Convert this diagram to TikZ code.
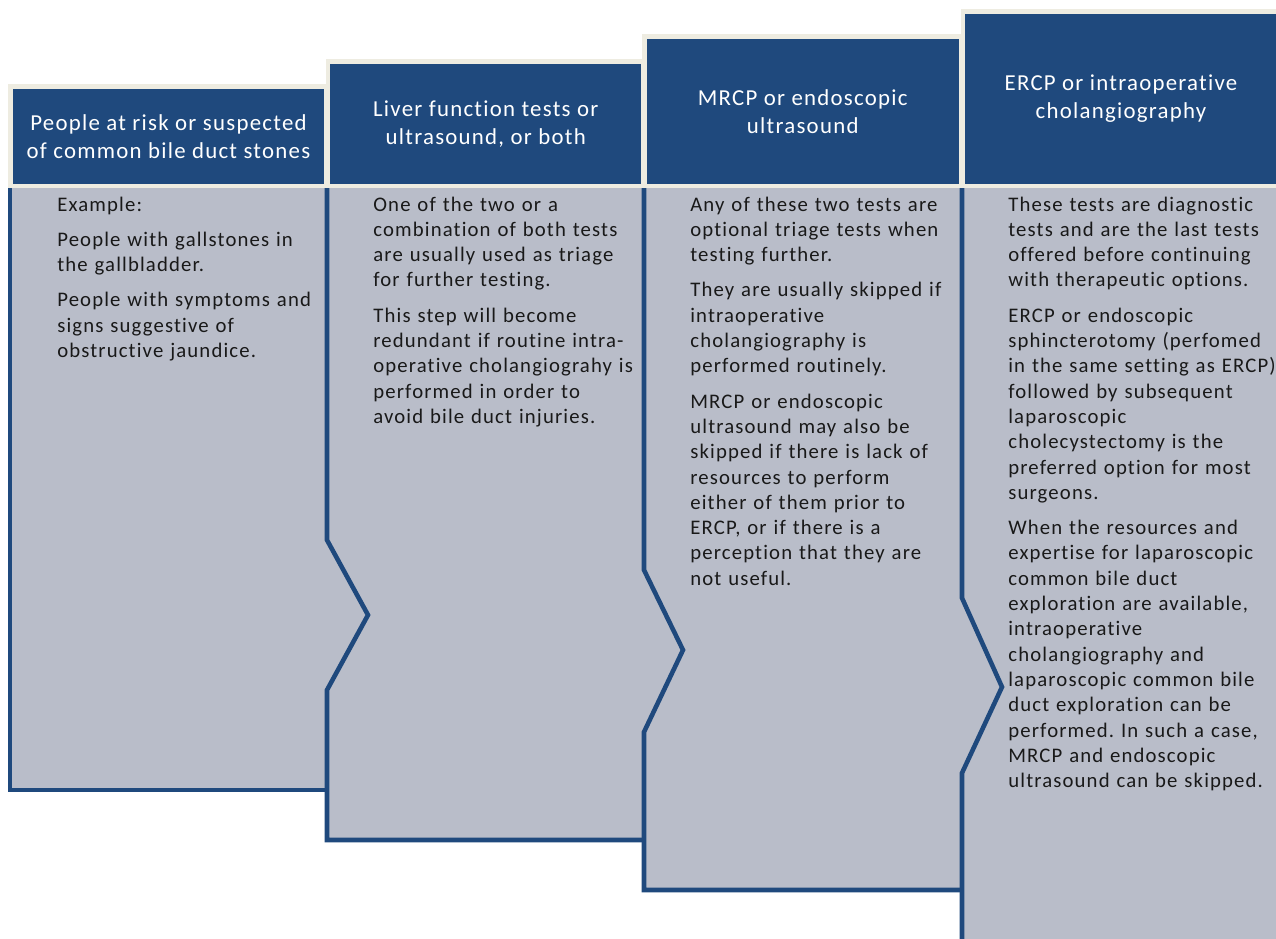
\documentclass[tikz,border=0pt]{standalone}
\usepackage{fontspec}
\setmainfont{Carlito}[LetterSpace=5.5, Ligatures={NoCommon}]
\frenchspacing

\definecolor{stepblue}{HTML}{1F497D}
\definecolor{stepgrey}{HTML}{B9BDC9}
\definecolor{stepcream}{HTML}{EEECE1}

\begin{document}
\begin{tikzpicture}[
    stepbody/.style = {fill = stepgrey},
    stepedge/.style = {draw = stepblue, line width = 2.6pt},
    stephead/.style = {fill = stepblue, draw = stepcream, line width = 2.8pt,
        text = white, align = center, inner sep = 0pt,
        font = \fontsize{13}{15.9}\selectfont},
    steptext/.style = {anchor = base west, text width = 6.200cm, align = left,
        inner sep = 0pt, text = black!90, font = \fontsize{11.8}{14.4}\selectfont}
]
    % Frame of the picture
    \useasboundingbox (+0.000, +0.000) rectangle (+25.520, -18.760);
    \clip (+0.000, +0.000) rectangle (+25.520, -18.760);

    % === Grey bodies from left to right ===
    % Panel 1
    \fill[stepbody] (+0.200, -3.740) rectangle (+7.600, -15.800);
    \draw[stepedge] (+0.200, -3.740) -- (+0.200, -15.800) -- (+6.540, -15.800);

    % Panel 2 (notch on the left)
    \fill[stepbody] (+6.540, -3.740) -- (+6.540, -10.800) -- (+7.360, -12.300)
    -- (+6.540, -13.800) -- (+6.540, -16.800) -- (+13.900, -16.800) -- (+13.900, -3.740) -- cycle;
    \draw[stepedge] (+6.540, -3.740) -- (+6.540, -10.800) -- (+7.360, -12.300)
    -- (+6.540, -13.800) -- (+6.540, -16.800) -- (+12.880, -16.800);

    % Panel 3
    \fill[stepbody] (+12.880, -3.740) -- (+12.880, -11.400) -- (+13.660, -13.000)
    -- (+12.880, -14.640) -- (+12.880, -17.800) -- (+20.200, -17.800) -- (+20.200, -3.740) -- cycle;
    \draw[stepedge] (+12.880, -3.740) -- (+12.880, -11.400) -- (+13.660, -13.000)
    -- (+12.880, -14.640) -- (+12.880, -17.800) -- (+19.240, -17.800);

    % Panel 4 (runs off the page)
    \fill[stepbody] (+19.240, -3.740) -- (+19.240, -11.960) -- (+20.040, -13.740)
    -- (+19.240, -15.460) -- (+19.240, -19.000) -- (+25.600, -19.000) -- (+25.600, -3.740) -- cycle;
    \draw[stepedge] (+19.240, -3.740) -- (+19.240, -11.960) -- (+20.040, -13.740)
    -- (+19.240, -15.460) -- (+19.240, -19.000);

    % === Headers, each one step higher ===
    \node[stephead, minimum width = 6.320cm, minimum height = 1.990cm] (head1)
    at (+3.370, -2.725) {People at risk or suspected\\of common bile duct stones};
    \node[stephead, minimum width = 6.310cm, minimum height = 2.490cm] (head2)
    at (+9.715, -2.475) {Liver function tests or\\ultrasound, or both};
    \node[stephead, minimum width = 6.330cm, minimum height = 2.990cm] (head3)
    at (+16.055, -2.225) {MRCP or endoscopic\\ultrasound};
    \node[stephead, minimum width = 6.320cm, minimum height = 3.490cm] (head4)
    at (+22.420, -1.975) {ERCP or intraoperative\\cholangiography};

    % === Texts ===
    \node[steptext] (text1) at (+1.140, -4.220) {Example:\\[0.2cm]
        People with gallstones in\\the gallbladder.\\[0.2cm]
        People with symptoms and\\signs suggestive of\\obstructive jaundice.};

    \node[steptext] (text2) at (+7.460, -4.220) {One of the two or a\\combination of both tests\\are usually used as triage\\for further testing.\\[0.2cm]
        This step will become\\redundant if routine intra-\\operative cholangiograhy is\\performed in order to\\avoid bile duct injuries.};

    \node[steptext] (text3) at (+13.800, -4.220) {Any of these two tests are\\optional triage tests when\\testing further.\\[0.2cm]
        They are usually skipped if\\intraoperative\\cholangiography is\\performed routinely.\\[0.2cm]
        MRCP or endoscopic\\ultrasound may also be\\skipped if there is lack of\\resources to perform\\either of them prior to\\ERCP, or if there is a\\perception that they are\\not useful.};

    \node[steptext] (text4) at (+20.160, -4.220) {These tests are diagnostic\\tests and are the last tests\\offered before continuing\\with therapeutic options.\\[0.2cm]
        ERCP or endoscopic\\sphincterotomy (perfomed\\in the same setting as ERCP)\\followed by subsequent\\laparoscopic\\cholecystectomy is the\\preferred option for most\\surgeons.\\[0.2cm]
        When the resources and\\expertise for laparoscopic\\common bile duct\\exploration are available,\\intraoperative\\cholangiography and\\laparoscopic common bile\\duct exploration can be\\performed. In such a case,\\MRCP and endoscopic\\ultrasound can be skipped.};
\end{tikzpicture}
\end{document}
